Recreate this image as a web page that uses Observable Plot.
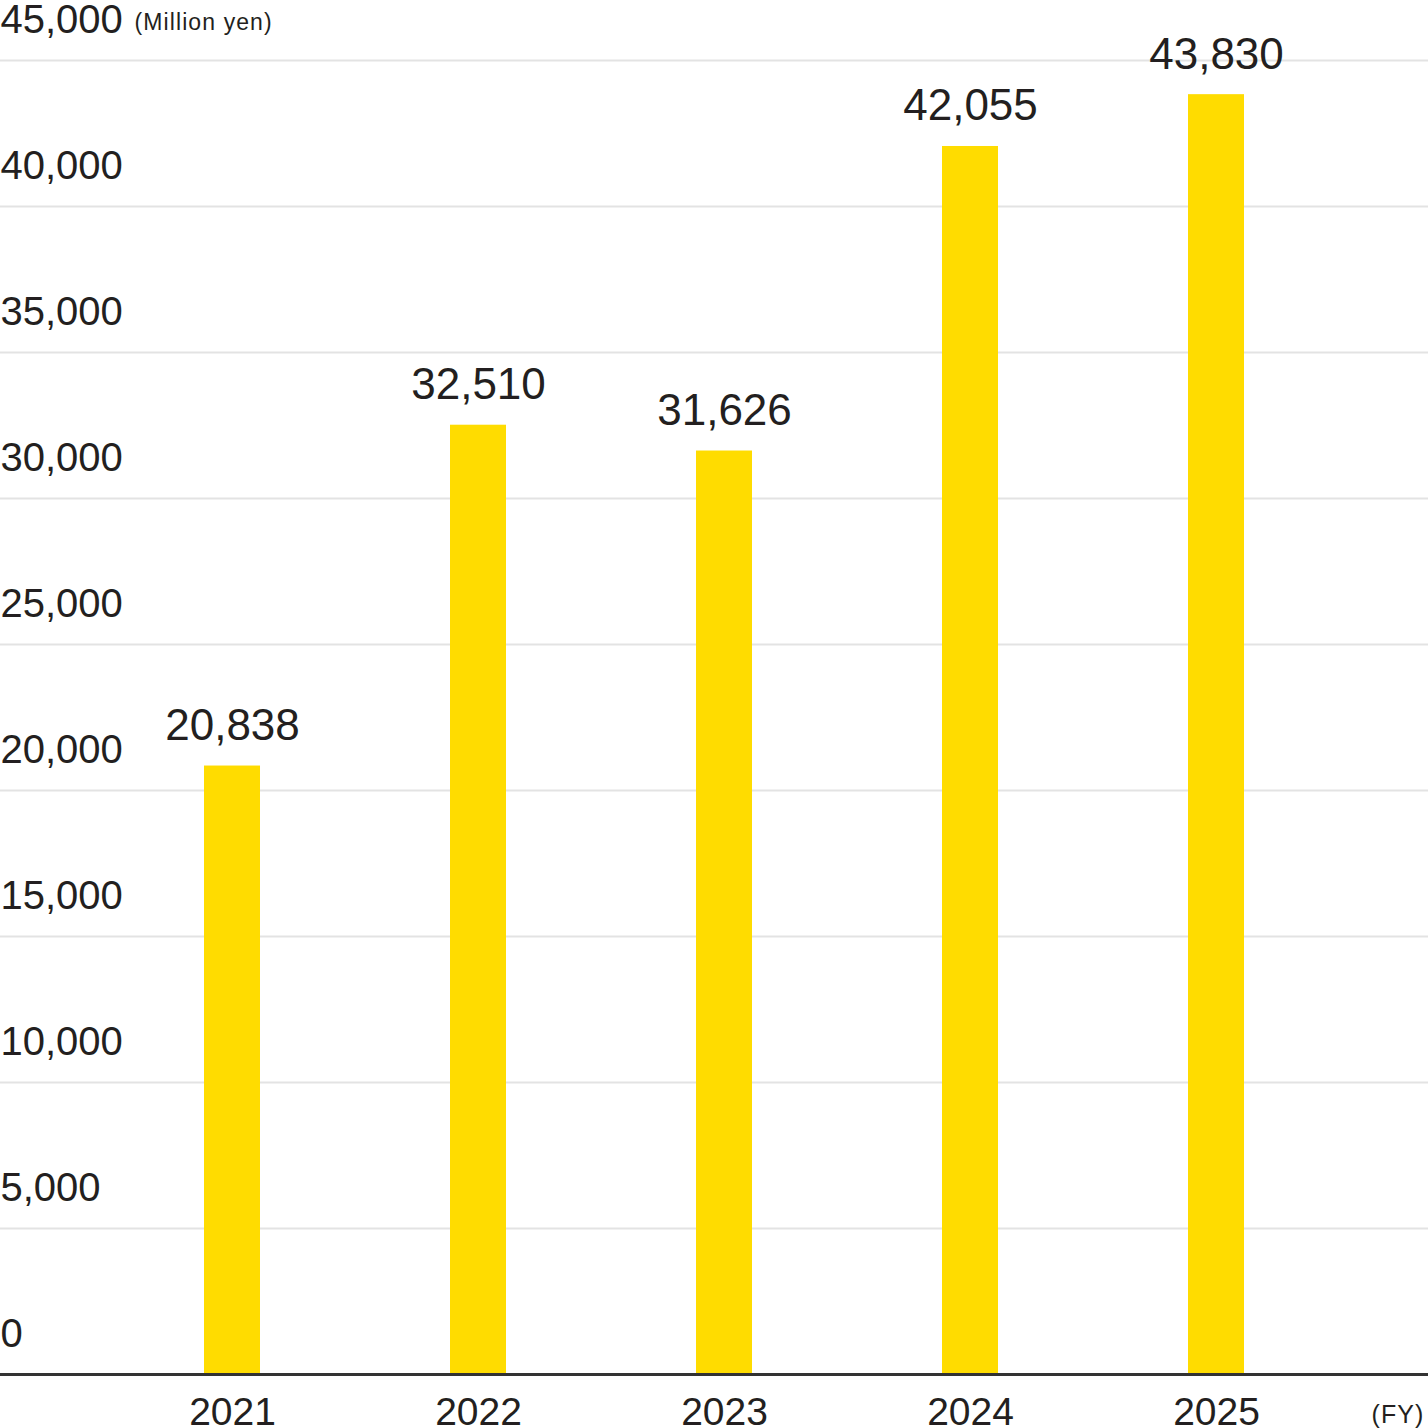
<!DOCTYPE html>
<html>
<head>
<meta charset="utf-8">
<script src="https://cdn.jsdelivr.net/npm/d3@7"></script>
<script src="https://cdn.jsdelivr.net/npm/@observablehq/plot@0.6"></script>
<style>
  html, body { margin: 0; padding: 0; background: #fff; }
  #chart svg { display: block; }
</style>
</head>
<body>
<div id="chart"></div>
<script>
const years = ["2021", "2022", "2023", "2024", "2025"];
const values = [20838, 32510, 31626, 42055, 43830];
const yTicks = [0, 5000, 10000, 15000, 20000, 25000, 30000, 35000, 40000, 45000];
const unitLabel = "(Million yen)";
const xUnitLabel = "(FY)";

const data = years.map((year, i) => ({year, value: values[i]}));
const fmt = d3.format(",");
const ink = "#231f20";

const chart = Plot.plot({
  width: 1428,
  height: 1428,
  marginTop: 60,
  marginBottom: 54,
  marginLeft: 0,
  marginRight: 0,
  style: {fontFamily: "'Liberation Sans', Arial, Helvetica, sans-serif", color: ink, background: "#fff", overflow: "visible"},
  x: {domain: years, range: [81, 1367], paddingInner: 0.7724, paddingOuter: 0.5},
  y: {domain: [0, 45000], axis: null},
  marks: [
    Plot.ruleY(yTicks.filter(d => d > 0), {stroke: "#e3e3e3", strokeWidth: 2}),
    Plot.barY(data, {x: "year", y: "value", fill: "#ffdc00"}),
    Plot.ruleY([0], {stroke: "#333", strokeWidth: 3}),
    Plot.text(yTicks, {y: d => d, frameAnchor: "left", text: d => fmt(d), textAnchor: "start", lineAnchor: "bottom", dy: -28, fontSize: 40, fill: ink}),
    Plot.text([unitLabel], {y: [45000], frameAnchor: "left", text: d => d, textAnchor: "start", lineAnchor: "bottom", dx: 134, dy: -31, fontSize: 23, fill: ink}),
    Plot.text(data, {x: "year", y: "value", text: d => fmt(d.value), textAnchor: "middle", lineAnchor: "bottom", dy: -26, fontSize: 44, fill: ink}),
    Plot.axisX({tickSize: 0, tickPadding: 23, fontSize: 39, fill: ink, label: null}),
    Plot.text([xUnitLabel], {y: [0], frameAnchor: "right", text: d => d, textAnchor: "end", lineAnchor: "bottom", dx: -4, dy: 48, fontSize: 25, fill: ink})
  ]
});
d3.select(chart).selectAll("text")
  .filter(function() { return this.textContent === unitLabel || this.textContent === xUnitLabel; })
  .style("letter-spacing", "1.1px");
document.getElementById("chart").appendChild(chart);
</script>
</body>
</html>
